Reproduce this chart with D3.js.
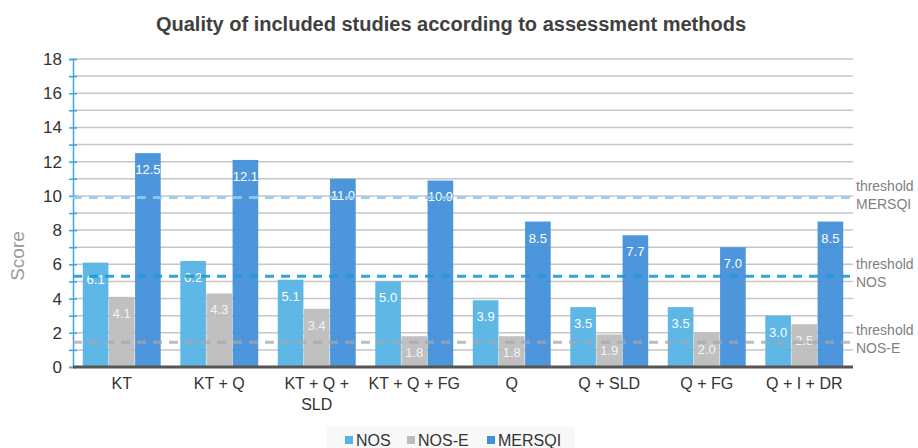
<!DOCTYPE html>
<html>
<head>
<meta charset="utf-8">
<script src="https://cdn.jsdelivr.net/npm/d3@7"></script>
<style>
  body { margin: 0; background: #fff; }
  svg { font-family: "Liberation Sans", Arial, sans-serif; }
</style>
</head>
<body>
<div id="chart"></div>
<script>
var categories = ["KT", "KT + Q", "KT + Q + SLD", "KT + Q + FG", "Q", "Q + SLD", "Q + FG", "Q + I + DR"];
var seriesNames = ["NOS", "NOS-E", "MERSQI"];
var nosValues = [6.1, 6.2, 5.1, 5.0, 3.9, 3.5, 3.5, 3.0];
var nosEValues = [4.1, 4.3, 3.4, 1.8, 1.8, 1.9, 2.0, 2.5];
var mersqiValues = [12.5, 12.1, 11.0, 10.9, 8.5, 7.7, 7.0, 8.5];
var thresholdNames = ["MERSQI", "NOS", "NOS-E"];
var thresholdValues = [9.9, 5.3, 1.45];
var yTicks = [0, 2, 4, 6, 8, 10, 12, 14, 16, 18];

var width = 918;
var height = 448;
var plotLeft = 73, plotRight = 853, plotTop = 59, plotBottom = 367;

var barColors = { "NOS": "#55b3e3", "NOS-E": "#bdbdbd", "MERSQI": "#4390d9" };
var thresholdColors = { "MERSQI": "#95cbee", "NOS": "#1e9ad8", "NOS-E": "#a8a8a8" };

var seriesValues = [nosValues, nosEValues, mersqiValues];
var rows = categories.map(function (c, i) {
    return { cat: c, values: seriesNames.map(function (s, j) { return { name: s, value: seriesValues[j][i] }; }) };
});

var svg = d3.select("#chart").append("svg")
    .attr("width", width)
    .attr("height", height);

var x0 = d3.scaleBand().domain(categories).range([plotLeft, plotRight]).paddingInner(0.19).paddingOuter(0.095);
var x1 = d3.scaleBand().domain(seriesNames).range([0, x0.bandwidth()]).padding(0.02);
var y = d3.scaleLinear().domain([0, 18]).range([plotBottom, plotTop]);

// title
svg.append("text")
    .attr("x", 451).attr("y", 31)
    .attr("text-anchor", "middle")
    .style("font-size", "20px").style("font-weight", "bold").style("fill", "#404040")
    .text("Quality of included studies according to assessment methods");

// gridlines every unit
svg.append("g").selectAll("line")
    .data(d3.range(1, 19))
    .enter().append("line")
    .attr("x1", plotLeft).attr("x2", plotRight)
    .attr("y1", function (d) { return y(d); }).attr("y2", function (d) { return y(d); })
    .style("stroke", "#c6c6c6").style("stroke-width", 1.5);

// bars
var groups = svg.append("g").selectAll("g")
    .data(rows)
    .enter().append("g")
    .attr("transform", function (d) { return "translate(" + x0(d.cat) + ",0)"; });

groups.selectAll("rect")
    .data(function (d) { return d.values; })
    .enter().append("rect")
    .attr("x", function (d) { return x1(d.name); })
    .attr("y", function (d) { return y(d.value); })
    .attr("width", x1.bandwidth())
    .attr("height", function (d) { return y(0) - y(d.value); })
    .style("fill", function (d) { return barColors[d.name]; })
    .style("opacity", 0.95);

groups.selectAll("text")
    .data(function (d) { return d.values; })
    .enter().append("text")
    .attr("x", function (d) { return x1(d.name) + x1.bandwidth() / 2; })
    .attr("y", function (d) { return y(d.value) + 21; })
    .attr("text-anchor", "middle")
    .style("font-size", "13px")
    .style("fill", function (d) { return d.name === "NOS-E" ? "#f4f4f4" : "#ffffff"; })
    .text(function (d) { return d.value.toFixed(1); });

// y axis
var yAxis = svg.append("g")
    .attr("transform", "translate(" + plotLeft + ",0)")
    .call(d3.axisLeft(y).tickValues(d3.range(0, 19)).tickSize(4).tickFormat(function (d) { return yTicks.indexOf(d) >= 0 ? d : ""; }));
yAxis.select(".domain").style("stroke", "#3ea6de").style("stroke-width", 1.5);
yAxis.selectAll(".tick line").attr("x1", -4).attr("x2", 4).style("stroke", "#3ea6de").style("stroke-width", 1.5);
yAxis.selectAll(".tick text").attr("x", -11).style("font-size", "17px").style("fill", "#333").style("font-family", "Liberation Sans, Arial, sans-serif");

// baseline
svg.append("line")
    .attr("x1", plotLeft).attr("x2", plotRight)
    .attr("y1", y(0)).attr("y2", y(0))
    .style("stroke", "#555").style("stroke-width", 3);

// threshold lines
svg.append("g").selectAll("line")
    .data(thresholdNames)
    .enter().append("line")
    .attr("x1", plotLeft).attr("x2", plotRight + 3)
    .attr("y1", function (d, i) { return y(thresholdValues[i]); })
    .attr("y2", function (d, i) { return y(thresholdValues[i]); })
    .style("stroke", function (d) { return thresholdColors[d]; })
    .style("stroke-width", 3)
    .style("stroke-dasharray", "9,7")
    .style("opacity", function (d) { return d === "NOS-E" ? 0.75 : 0.9; });

var tl = svg.append("g").selectAll("g")
    .data(thresholdNames)
    .enter().append("g")
    .attr("transform", function (d, i) { return "translate(856," + y(thresholdValues[i]) + ")"; });
tl.append("text").attr("y", -7).style("font-size", "14px").style("fill", "#7f7f7f").text("threshold");
tl.append("text").attr("y", 11).style("font-size", "14px").style("fill", "#7f7f7f").text(function (d) { return d; });

// x labels with wrapping
var xl = svg.append("g").selectAll("text")
    .data(categories)
    .enter().append("text")
    .attr("x", function (d) { return x0(d) + x0.bandwidth() / 2; })
    .attr("y", 389)
    .attr("text-anchor", "middle")
    .style("font-size", "16px").style("fill", "#333");
xl.each(function (d) {
    var t = d3.select(this);
    var words = d.split(" ");
    var line = [];
    var tspan = t.append("tspan").attr("x", t.attr("x")).attr("dy", 0);
    words.forEach(function (w) {
        line.push(w);
        tspan.text(line.join(" "));
        if (tspan.node().getComputedTextLength() > 96 && line.length > 1) {
            line.pop();
            tspan.text(line.join(" "));
            line = [w];
            tspan = t.append("tspan").attr("x", t.attr("x")).attr("dy", 21).text(w);
        }
    });
});

// legend
var legend = svg.append("g");
legend.append("rect")
    .attr("x", 327).attr("y", 427).attr("width", 248).attr("height", 24)
    .style("fill", "#f8f8f8");
var legendX = [345, 407, 487];
var items = legend.selectAll("g")
    .data(seriesNames)
    .enter().append("g")
    .attr("transform", function (d, i) { return "translate(" + legendX[i] + ",0)"; });
items.append("rect")
    .attr("x", 0).attr("y", 436).attr("width", 8).attr("height", 8)
    .style("fill", function (d) { return barColors[d]; });
items.append("text")
    .attr("x", 11).attr("y", 446)
    .style("font-size", "16px").style("fill", "#333")
    .text(function (d) { return d; });

// y title
svg.append("text")
    .attr("transform", "translate(24,256) rotate(-90)")
    .attr("text-anchor", "middle")
    .style("font-size", "19px").style("fill", "#999")
    .text("Score");
</script>
</body>
</html>
